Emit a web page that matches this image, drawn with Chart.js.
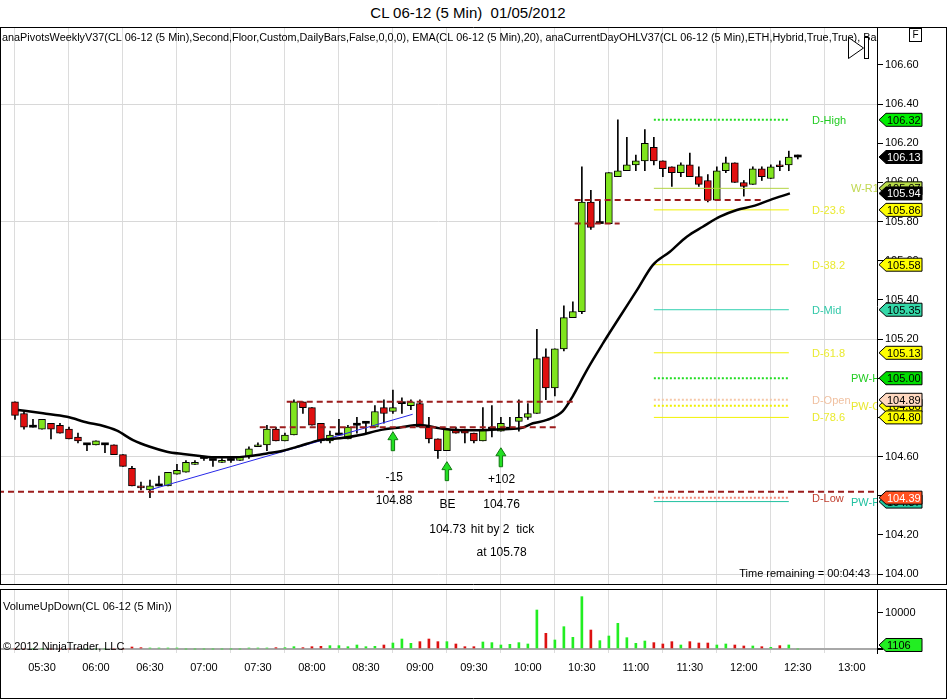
<!DOCTYPE html>
<html><head><meta charset="utf-8">
<script src="https://cdn.jsdelivr.net/npm/chart.js@4.4.1/dist/chart.umd.min.js"></script>
<style>
body{margin:0;background:#fff;width:947px;height:699px;overflow:hidden;position:relative;font-family:Arial,"Liberation Sans",sans-serif;}
#title{position:absolute;left:0;top:4px;width:936px;text-align:center;font-size:15px;color:#000;white-space:pre;}
#pw{position:absolute;left:0;top:27px;width:947px;height:558px;}
#vw{position:absolute;left:0;top:589px;width:947px;height:110px;}
canvas{display:block;}
</style></head><body>
<div id="title">CL 06-12 (5 Min)  01/05/2012</div>
<div id="pw"><canvas id="pc" width="947" height="558"></canvas></div>
<div id="vw"><canvas id="vc" width="947" height="110"></canvas></div>
<script>
// ---------------- DATA ----------------
const times = ['05:15','05:20','05:25','05:30','05:35','05:40','05:45','05:50','05:55',
 '06:00','06:05','06:10','06:15','06:20','06:25','06:30','06:35','06:40','06:45','06:50','06:55',
 '07:00','07:05','07:10','07:15','07:20','07:25','07:30','07:35','07:40','07:45','07:50','07:55',
 '08:00','08:05','08:10','08:15','08:20','08:25','08:30','08:35','08:40','08:45','08:50','08:55',
 '09:00','09:05','09:10','09:15','09:20','09:25','09:30','09:35','09:40','09:45','09:50','09:55',
 '10:00','10:05','10:10','10:15','10:20','10:25','10:30','10:35','10:40','10:45','10:50','10:55',
 '11:00','11:05','11:10','11:15','11:20','11:25','11:30','11:35','11:40','11:45','11:50','11:55',
 '12:00','12:05','12:10','12:15','12:20','12:25','12:30'];
const opens = [104.88,104.82,104.75,104.74,104.77,104.76,104.74,104.70,104.66,104.66,104.66,104.66,104.61,104.54,104.45,104.43,104.45,104.45,104.51,104.52,104.56,104.59,104.58,104.57,104.58,104.58,104.60,104.65,104.66,104.74,104.68,104.71,104.88,104.85,104.77,104.68,104.71,104.69,104.76,104.77,104.75,104.85,104.83,104.87,104.86,104.87,104.75,104.69,104.63,104.74,104.74,104.72,104.68,104.74,104.73,104.74,104.78,104.80,104.82,105.11,104.95,105.15,105.31,105.34,105.90,105.79,105.79,106.03,106.06,106.09,106.11,106.18,106.11,106.08,106.05,106.09,106.03,106.01,105.91,106.06,106.10,106.00,105.99,106.07,106.02,106.09,106.09,106.13];
const highs = [104.88,104.83,104.79,104.79,104.77,104.77,104.75,104.72,104.66,104.68,104.66,104.66,104.61,104.55,104.47,104.48,104.50,104.52,104.56,104.58,104.58,104.60,104.58,104.59,104.59,104.60,104.65,104.67,104.76,104.75,104.72,104.89,104.88,104.85,104.77,104.73,104.79,104.76,104.80,104.78,104.86,104.89,104.94,104.90,104.89,104.89,104.80,104.69,104.74,104.75,104.74,104.72,104.85,104.86,104.80,104.80,104.89,104.87,105.25,105.15,105.15,105.37,105.39,106.08,105.96,105.91,106.05,106.32,106.23,106.14,106.27,106.23,106.11,106.08,106.10,106.15,106.08,106.04,106.08,106.13,106.10,106.01,106.08,106.08,106.09,106.11,106.16,106.14];
const lows = [104.79,104.74,104.75,104.74,104.69,104.72,104.69,104.67,104.63,104.66,104.62,104.61,104.55,104.45,104.43,104.39,104.45,104.45,104.51,104.52,104.56,104.58,104.55,104.57,104.57,104.58,104.59,104.65,104.63,104.68,104.68,104.71,104.82,104.76,104.67,104.67,104.71,104.69,104.72,104.72,104.75,104.77,104.82,104.82,104.84,104.75,104.67,104.59,104.63,104.72,104.67,104.67,104.68,104.70,104.73,104.74,104.73,104.79,104.82,104.89,104.91,105.14,105.31,105.33,105.76,105.79,105.79,106.03,106.06,106.06,106.06,106.09,106.03,105.98,106.03,106.03,105.98,105.90,105.91,106.05,106.00,105.93,105.99,106.01,106.02,106.06,106.06,106.12];
const closes = [104.81,104.75,104.75,104.79,104.74,104.72,104.69,104.68,104.66,104.68,104.66,104.61,104.55,104.45,104.44,104.45,104.45,104.52,104.53,104.57,104.57,104.59,104.58,104.58,104.58,104.60,104.64,104.66,104.74,104.68,104.71,104.88,104.85,104.76,104.68,104.71,104.71,104.75,104.76,104.77,104.83,104.82,104.85,104.87,104.88,104.75,104.69,104.63,104.74,104.72,104.72,104.68,104.74,104.74,104.77,104.74,104.80,104.82,105.10,104.95,105.15,105.31,105.34,105.90,105.77,105.79,106.05,106.06,106.09,106.11,106.20,106.11,106.07,106.05,106.09,106.03,105.99,105.91,106.06,106.10,106.00,105.98,106.07,106.03,106.08,106.08,106.13,106.13];
const volumes = [0,0,0,0,0,0,0,0,0,0,0,0,0,550,370,280,280,280,280,0,0,0,0,0,0,0,280,280,280,370,370,640,370,640,730,920,920,640,1100,640,730,1100,1650,2750,1560,2020,2750,2020,2020,1380,640,640,1930,1750,1100,1290,1750,1380,10740,4320,2480,6150,3210,14420,5230,2300,3580,7070,3120,1560,2200,1750,1380,2020,1100,2020,1650,1650,1100,1380,1100,830,830,640,460,920,1106,0];
// EMA(20) (minutes since midnight, price)
const emaTimes = [316.7,330.6,343.9,355.6,362.2,371.7,380.6,390,399.4,408.3,417.8,427.2,436.1,445.6,455,463.9,473.3,484.4,495.6,506.7,517.8,528.9,540,551.1,562.2,573.3,584.4,595.6,602.8,610.6,619.4,625,628.9,632.8,641.7,651.1,660.6,669.4,678.9,688.3,697.2,706.7,716.1,725,734.4,745.6];
const emaValues = [104.838,104.821,104.803,104.773,104.761,104.732,104.684,104.650,104.625,104.613,104.603,104.596,104.596,104.603,104.616,104.630,104.654,104.684,104.693,104.710,104.735,104.749,104.761,104.744,104.735,104.735,104.739,104.744,104.770,104.787,104.832,104.909,104.975,105.042,105.178,105.314,105.450,105.578,105.646,105.723,105.774,105.825,105.859,105.879,105.910,105.944];
// pivot levels
const pivotNames  = ['D-High','W-R1','D-23.6','D-38.2','D-Mid','D-61.8','PW-H','D-Open','PW-C','D-78.6','D-Low','PW-P'];
const pivotValues = [106.32,105.97,105.86,105.58,105.35,105.13,105.00,104.89,104.86,104.80,104.39,104.37];
const pivotFrom = '11:10', pivotTo = '12:25';
// hand-drawn support / resistance lines (price, from, to)
const srPrices = [104.42,104.75,104.88,105.91,105.79];
const srFrom   = ['05:00','07:31','07:46','10:26','10:26'];
const srTo     = ['13:20','10:16','10:25','12:11','10:51'];
// trend line
const trendTimes = ['06:30','08:56'];
const trendPrices = [104.43,104.816];
// trade arrows and notes
const arrowTimes = ['08:45','09:15','09:45'];
const arrowTips  = [104.727,104.574,104.645];
const noteTexts  = ['-15','104.88','BE','104.73','hit by 2  tick','+102','104.76','at 105.78'];
const noteTimes  = [525.7,525.7,555.4,555.4,585.9,585.4,585.4,585.4];
const notePrices = [104.494,104.373,104.352,104.228,104.228,104.48,104.356,104.109];
const priceTicks = {min:103.944, max:106.794, step:0.2};
const volTickValues = [0, 10000];
const volRange = {min:-1102, max:16529};
const xRange = {min:306.67, max:794, step:30};

// ---------------- HELPERS / STYLES ----------------
const FONT = 'Arial, "Liberation Sans", sans-serif';
const toMin = s => { const p = s.split(':'); return (+p[0])*60 + (+p[1]); };
const fmtT = v => { const h = Math.floor(v/60), m = Math.round(v - h*60); return String(h).padStart(2,'0') + ':' + String(m).padStart(2,'0'); };
const UP = '#80e41e', DOWN = '#e01010';
const VUP = '#22ee22', VDOWN = '#dd1111';
const pivotStyle = {
 'D-High':{line:'#22dd22',dash:[2,2],w:2,text:'#22cc22',box:'#00ee00',fg:'#000',lx:-65},
 'W-R1':{line:'#b4d444',dash:[],w:1,text:'#c0d850',box:'#b8dc48',fg:'#000',lx:-26},
 'D-23.6':{line:'#f2f200',dash:[],w:1,text:'#eaea30',box:'#ffff00',fg:'#000',lx:-65},
 'D-38.2':{line:'#f2f200',dash:[],w:1,text:'#eaea30',box:'#ffff00',fg:'#000',lx:-65},
 'D-Mid':{line:'#30d0b0',dash:[],w:1,text:'#30c8a8',box:'#34d8a8',fg:'#000',lx:-65},
 'D-61.8':{line:'#f2f200',dash:[],w:1,text:'#eaea30',box:'#ffff00',fg:'#000',lx:-65},
 'PW-H':{line:'#22dd22',dash:[2,2],w:2,text:'#22cc22',box:'#00dd00',fg:'#000',lx:-26},
 'D-Open':{line:'#f5c8a8',dash:[2,2],w:2,text:'#f0c0a0',box:'#ffd8c0',fg:'#000',lx:-65},
 'PW-C':{line:'#f0f000',dash:[2,2],w:2,text:'#e8e830',box:'#ffff00',fg:'#000',lx:-26},
 'D-78.6':{line:'#f2f200',dash:[],w:1,text:'#eaea30',box:'#ffff00',fg:'#000',lx:-65},
 'D-Low':{line:'#f08878',dash:[2,2],w:2,text:'#c04030',box:'#ff5020',fg:'#fff',lx:-65},
 'PW-P':{line:'#20c0a0',dash:[],w:1,text:'#20c0a0',box:'#20c8a0',fg:'#000',lx:-26}
};
const candleColor = i => closes[i] > opens[i] ? UP : (closes[i] < opens[i] ? DOWN : '#000');
const volColor = i => closes[i] >= opens[i] ? VUP : VDOWN;

// ---------------- DATASETS ----------------
const datasets = [];
datasets.push({type:'bar', label:'wicks', order:6, grouped:false, barThickness:1,
  data: times.map((t,i)=>({x:toMin(t), y:[lows[i], highs[i]]})),
  backgroundColor:'#000', borderWidth:0});
datasets.push({type:'bar', label:'bodies', order:5, grouped:false, barThickness:7, minBarLength:2,
  data: times.map((t,i)=>({x:toMin(t), y:[opens[i], closes[i]]})),
  backgroundColor: c => candleColor(c.dataIndex),
  borderColor:'#000', borderWidth: c => (opens[c.dataIndex]===closes[c.dataIndex]?0:1), borderSkipped:false});
datasets.push({type:'line', label:'EMA', order:2, data: emaTimes.map((t,i)=>({x:t, y:emaValues[i]})),
  borderColor:'#000', borderWidth:2.5, pointRadius:0, cubicInterpolationMode:'monotone', fill:false});
datasets.push({type:'line', label:'trend', order:2, data: trendTimes.map((t,i)=>({x:toMin(t), y:trendPrices[i]})),
  borderColor:'#2828e8', borderWidth:1, pointRadius:0});
pivotNames.forEach((n,i)=>{
  const s = pivotStyle[n];
  datasets.push({type:'line', label:n, order:3, data:[{x:toMin(pivotFrom),y:pivotValues[i]},{x:toMin(pivotTo),y:pivotValues[i]}],
    borderColor:s.line, borderWidth:s.w, borderDash:s.dash, pointRadius:0});
});
srPrices.forEach((p,i)=>{
  datasets.push({type:'line', label:'sr'+i, order:1, data:[{x:toMin(srFrom[i]),y:p},{x:toMin(srTo[i]),y:p}],
    borderColor:'#9c1c1c', borderWidth:2, borderDash:[6,4], pointRadius:0});
});

// ---------------- PLUGINS ----------------
function tagBox(ctx, x, y, text, bg, fg){
  ctx.save();
  ctx.beginPath();
  ctx.moveTo(x, y);
  ctx.lineTo(x+7, y-6.5);
  ctx.lineTo(x+43, y-6.5);
  ctx.lineTo(x+43, y+6.5);
  ctx.lineTo(x+7, y+6.5);
  ctx.closePath();
  ctx.fillStyle = bg; ctx.fill();
  ctx.strokeStyle = '#000'; ctx.lineWidth = 1; ctx.stroke();
  ctx.fillStyle = fg; ctx.font = '11px ' + FONT; ctx.textBaseline = 'middle'; ctx.textAlign = 'left';
  ctx.fillText(text, x+8, y+1);
  ctx.restore();
}
const priceOverlay = {
  id:'priceOverlay',
  afterDatasetsDraw(chart){
    const {ctx, chartArea:a, scales:{x, y}} = chart;
    ctx.save();
    ctx.beginPath(); ctx.rect(a.left, a.top, a.right-a.left, a.bottom-a.top); ctx.clip();
    // pivot labels
    ctx.font = '11px ' + FONT; ctx.textBaseline = 'middle'; ctx.textAlign = 'left';
    pivotNames.forEach((n,i)=>{
      const s = pivotStyle[n];
      ctx.fillStyle = s.text;
      ctx.fillText(n, a.right + s.lx, y.getPixelForValue(pivotValues[i]) + 1);
    });
    // arrows
    arrowTimes.forEach((t,i)=>{
      const xc = x.getPixelForValue(toMin(t)), tp = y.getPixelForValue(arrowTips[i]);
      ctx.beginPath();
      ctx.moveTo(xc, tp); ctx.lineTo(xc+5, tp+8); ctx.lineTo(xc+1.7, tp+8); ctx.lineTo(xc+1.7, tp+19);
      ctx.lineTo(xc-1.7, tp+19); ctx.lineTo(xc-1.7, tp+8); ctx.lineTo(xc-5, tp+8); ctx.closePath();
      ctx.fillStyle = '#22e022'; ctx.fill(); ctx.strokeStyle = '#117711'; ctx.lineWidth = 1; ctx.stroke();
    });
    // notes
    ctx.fillStyle = '#000'; ctx.font = '12px ' + FONT; ctx.textAlign = 'center';
    noteTexts.forEach((t,i)=>{ ctx.fillText(t, x.getPixelForValue(noteTimes[i]), y.getPixelForValue(notePrices[i])); });
    // indicator caption
    ctx.textAlign = 'left'; ctx.font = '10.85px ' + FONT;
    ctx.fillText('anaPivotsWeeklyV37(CL 06-12 (5 Min),Second,Floor,Custom,DailyBars,False,0,0,0), EMA(CL 06-12 (5 Min),20), anaCurrentDayOHLV37(CL 06-12 (5 Min),ETH,Hybrid,True,True), Bars', 2, 11);
    // scroll icon
    ctx.fillStyle = '#fff'; ctx.strokeStyle = '#000'; ctx.lineWidth = 1;
    ctx.beginPath(); ctx.moveTo(848.5, 10.5); ctx.lineTo(863.5, 21); ctx.lineTo(848.5, 31.5); ctx.closePath(); ctx.fill(); ctx.stroke();
    ctx.fillRect(864.5, 10.5, 4, 21); ctx.strokeRect(864.5, 10.5, 4, 21);
    // time remaining
    ctx.fillStyle = '#000'; ctx.textAlign = 'right'; ctx.font = '11px ' + FONT;
    ctx.fillText('Time remaining = 00:04:43', a.right - 7, a.bottom - 11);
    ctx.restore();
  },
  afterDraw(chart){
    const {ctx, chartArea:a, scales:{y}, width, height} = chart;
    ctx.save();
    ctx.strokeStyle = '#000'; ctx.lineWidth = 1;
    ctx.beginPath();
    ctx.moveTo(0, 0.5); ctx.lineTo(width, 0.5);
    ctx.moveTo(0.5, 0); ctx.lineTo(0.5, height);
    ctx.moveTo(width-0.5, 0); ctx.lineTo(width-0.5, height);
    ctx.moveTo(0, height-0.5); ctx.lineTo(width, height-0.5);
    ctx.stroke();
    ctx.strokeRect(909.5, 1.5, 12, 13);
    ctx.fillStyle = '#000'; ctx.font = '10px ' + FONT; ctx.textAlign = 'center'; ctx.textBaseline = 'middle';
    ctx.fillText('F', 915.5, 8.5);
    ctx.restore();
    const bx = a.right + 2;
    const tags = [];
    ['W-R1','PW-C','PW-P','D-High'].forEach(n=>{ const i = pivotNames.indexOf(n); tags.push([pivotValues[i], pivotStyle[n].box, pivotStyle[n].fg]); });
    tags.push([closes[closes.length-1], '#000', '#fff']);
    tags.push([emaValues[emaValues.length-1], '#000', '#fff']);
    ['D-23.6','D-38.2','D-Mid','D-61.8','PW-H','D-Open','D-78.6','D-Low'].forEach(n=>{ const i = pivotNames.indexOf(n); tags.push([pivotValues[i], pivotStyle[n].box, pivotStyle[n].fg]); });
    tags.forEach(t=>tagBox(ctx, bx, y.getPixelForValue(t[0]), (Math.floor(t[0]*100+1e-6)/100).toFixed(2), t[1], t[2]));
  }
};
const volOverlay = {
  id:'volOverlay',
  afterDatasetsDraw(chart){
    const {ctx, scales:{y}} = chart;
    ctx.save();
    ctx.fillStyle = '#000'; ctx.font = '11px ' + FONT; ctx.textAlign = 'left'; ctx.textBaseline = 'middle';
    ctx.fillText('VolumeUpDown(CL 06-12 (5 Min))', 3, 18);
    ctx.fillText('\u00a9 2012 NinjaTrader, LLC', 3, y.getPixelForValue(0) - 2);
    ctx.restore();
  },
  afterDraw(chart){
    const {ctx, chartArea:a, scales:{y}, width, height} = chart;
    ctx.save();
    ctx.strokeStyle = '#000'; ctx.lineWidth = 1;
    ctx.beginPath();
    ctx.moveTo(0, 0.5); ctx.lineTo(width, 0.5);
    ctx.moveTo(0.5, 0); ctx.lineTo(0.5, height);
    ctx.moveTo(width-0.5, 0); ctx.lineTo(width-0.5, height);
    ctx.moveTo(0, height-0.5); ctx.lineTo(width, height-0.5);
    ctx.stroke();
    ctx.restore();
    let last = volumes.length-1; while (last > 0 && !volumes[last]) last--;
    tagBox(ctx, a.right + 2, y.getPixelForValue(volumes[last]), String(volumes[last]), '#22ee22', '#000');
  }
};

const xCommon = {
  type:'linear', min:xRange.min, max:xRange.max, offset:false,
  ticks:{stepSize:xRange.step, includeBounds:false, autoSkip:false, maxRotation:0, color:'#000',
    font:{family:FONT, size:11}, callback:v=>fmtT(v)},
  grid:{color:'#dcdcdc', drawTicks:false},
  border:{display:false},
  afterFit(s){ s.paddingLeft = 0; s.paddingRight = 0; }
};

new Chart(document.getElementById('pc'), {
  data:{datasets},
  options:{
    responsive:false, animation:false, events:[],
    layout:{padding:0},
    plugins:{legend:{display:false}, tooltip:{enabled:false}},
    scales:{
      x: Object.assign({}, xCommon, {ticks:Object.assign({}, xCommon.ticks, {display:false})}),
      y:{type:'linear', position:'right', min:priceTicks.min, max:priceTicks.max,
        ticks:{stepSize:priceTicks.step, includeBounds:false, color:'#000', padding:2, font:{family:FONT, size:11}, callback:v=>Number(v).toFixed(2)},
        grid:{tickLength:6, tickColor:'#000',
          color:c=>{ if(!c.tick) return 'rgba(0,0,0,0)'; const k = Math.round((c.tick.value-104)/0.2); return (k%3===0) ? '#d8d8d8' : 'rgba(0,0,0,0)'; }},
        border:{display:true, color:'#000'},
        afterFit(s){ s.width = 70; s.paddingTop = 0; s.paddingBottom = 0; }
      }
    }
  },
  plugins:[priceOverlay]
});

new Chart(document.getElementById('vc'), {
  data:{datasets:[{type:'bar', label:'Volume', grouped:false, barThickness:2,
    data: times.map((t,i)=>({x:toMin(t), y:volumes[i]})),
    backgroundColor:c=>volColor(c.dataIndex), borderWidth:0}]},
  options:{
    responsive:false, animation:false, events:[],
    layout:{padding:0},
    plugins:{legend:{display:false}, tooltip:{enabled:false}},
    scales:{
      x: Object.assign({}, xCommon, {ticks:Object.assign({}, xCommon.ticks, {padding:8}),
        afterFit(s){ s.height = 46; s.paddingLeft = 0; s.paddingRight = 0; }}),
      y:{type:'linear', position:'right', min:volRange.min, max:volRange.max,
        afterBuildTicks(s){ s.ticks = volTickValues.map(v=>({value:v})); },
        ticks:{color:'#000', padding:2, font:{family:FONT, size:11}, callback:v=>String(v)},
        grid:{tickLength:6, tickColor:'#000',
          color:c=>(c.tick && c.tick.value===0) ? '#a8a8a8' : 'rgba(0,0,0,0)',
          lineWidth:c=>(c.tick && c.tick.value===0) ? 2 : 1},
        border:{display:true, color:'#000'},
        afterFit(s){ s.width = 70; s.paddingTop = 0; s.paddingBottom = 0; }
      }
    }
  },
  plugins:[volOverlay]
});
</script>
</body></html>
